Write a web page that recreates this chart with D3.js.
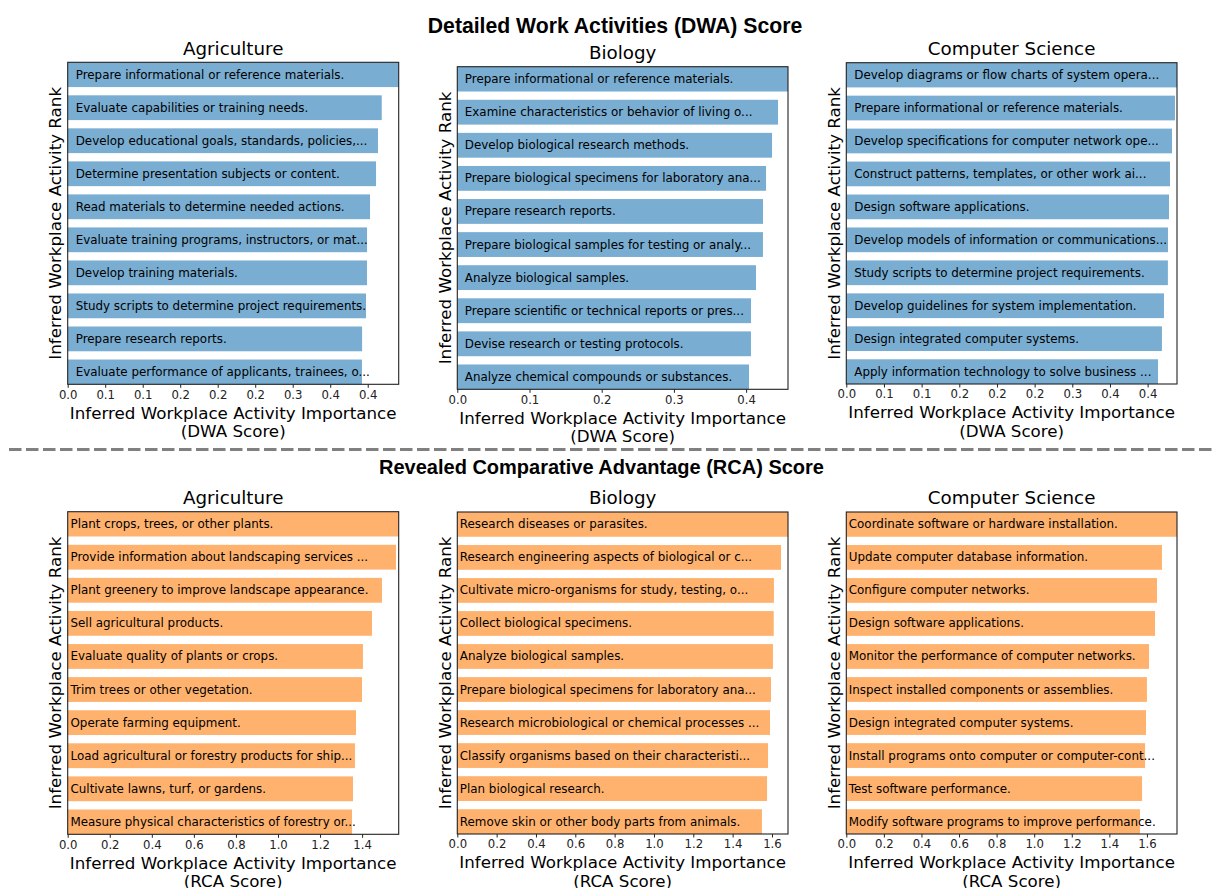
<!DOCTYPE html>
<html>
<head>
<meta charset="utf-8">
<script src="https://cdn.jsdelivr.net/npm/d3@7"></script>
<style>
  html, body { margin: 0; padding: 0; background: #ffffff; }
  svg { display: block; }
</style>
</head>
<body>
<svg id="chart" width="1216" height="888"></svg>
<script>
// ---------------- DATA ----------------
const dwaAgriLabels = [
  "Prepare informational or reference materials.",
  "Evaluate capabilities or training needs.",
  "Develop educational goals, standards, policies,...",
  "Determine presentation subjects or content.",
  "Read materials to determine needed actions.",
  "Evaluate training programs, instructors, or mat...",
  "Develop training materials.",
  "Study scripts to determine project requirements.",
  "Prepare research reports.",
  "Evaluate performance of applicants, trainees, o..."
];
const dwaAgriValues = [0.4413, 0.4187, 0.4137, 0.4111, 0.4031, 0.3991, 0.3990, 0.3977, 0.3925, 0.3923];

const dwaBioLabels = [
  "Prepare informational or reference materials.",
  "Examine characteristics or behavior of living o...",
  "Develop biological research methods.",
  "Prepare biological specimens for laboratory ana...",
  "Prepare research reports.",
  "Prepare biological samples for testing or analy...",
  "Analyze biological samples.",
  "Prepare scientific or technical reports or pres...",
  "Devise research or testing protocols.",
  "Analyze chemical compounds or substances."
];
const dwaBioValues = [0.4580, 0.4442, 0.4359, 0.4276, 0.4234, 0.4233, 0.4137, 0.4068, 0.4067, 0.4040];

const dwaCsLabels = [
  "Develop diagrams or flow charts of system opera...",
  "Prepare informational or reference materials.",
  "Develop specifications for computer network ope...",
  "Construct patterns, templates, or other work ai...",
  "Design software applications.",
  "Develop models of information or communications...",
  "Study scripts to determine project requirements.",
  "Develop guidelines for system implementation.",
  "Design integrated computer systems.",
  "Apply information technology to solve business ..."
];
const dwaCsValues = [0.4390, 0.4363, 0.4324, 0.4297, 0.4284, 0.4270, 0.4269, 0.4217, 0.4190, 0.4138];

const rcaAgriLabels = [
  "Plant crops, trees, or other plants.",
  "Provide information about landscaping services ...",
  "Plant greenery to improve landscape appearance.",
  "Sell agricultural products.",
  "Evaluate quality of plants or crops.",
  "Trim trees or other vegetation.",
  "Operate farming equipment.",
  "Load agricultural or forestry products for ship...",
  "Cultivate lawns, turf, or gardens.",
  "Measure physical characteristics of forestry or..."
];
const rcaAgriValues = [1.574, 1.561, 1.4945, 1.447, 1.404, 1.3995, 1.371, 1.366, 1.3566, 1.352];

const rcaBioLabels = [
  "Research diseases or parasites.",
  "Research engineering aspects of biological or c...",
  "Cultivate micro-organisms for study, testing, o...",
  "Collect biological specimens.",
  "Analyze biological samples.",
  "Prepare biological specimens for laboratory ana...",
  "Research microbiological or chemical processes ...",
  "Classify organisms based on their characteristi...",
  "Plan biological research.",
  "Remove skin or other body parts from animals."
];
const rcaBioValues = [1.6815, 1.646, 1.610, 1.609, 1.605, 1.595, 1.590, 1.580, 1.575, 1.549];

const rcaCsLabels = [
  "Coordinate software or hardware installation.",
  "Update computer database information.",
  "Configure computer networks.",
  "Design software applications.",
  "Monitor the performance of computer networks.",
  "Inspect installed components or assemblies.",
  "Design integrated computer systems.",
  "Install programs onto computer or computer-cont...",
  "Test software performance.",
  "Modify software programs to improve performance."
];
const rcaCsValues = [1.760, 1.680, 1.6535, 1.643, 1.611, 1.600, 1.595, 1.590, 1.574, 1.563];

// tick values and their printed labels
const dwaFineTicks = [0, 0.05, 0.10, 0.15, 0.20, 0.25, 0.30, 0.35, 0.40];
const dwaFineTickLabels = ["0.0", "0.1", "0.1", "0.2", "0.2", "0.2", "0.3", "0.4", "0.4"];
const dwaBioTicks = [0, 0.1, 0.2, 0.3, 0.4];
const dwaBioTickLabels = ["0.0", "0.1", "0.2", "0.3", "0.4"];
const rcaAgriTicks = [0, 0.2, 0.4, 0.6, 0.8, 1.0, 1.2, 1.4];
const rcaAgriTickLabels = ["0.0", "0.2", "0.4", "0.6", "0.8", "1.0", "1.2", "1.4"];
const rcaTicks = [0, 0.2, 0.4, 0.6, 0.8, 1.0, 1.2, 1.4, 1.6];
const rcaTickLabels = ["0.0", "0.2", "0.4", "0.6", "0.8", "1.0", "1.2", "1.4", "1.6"];

const fieldTitles = ["Agriculture", "Biology", "Computer Science"];
const rowTitles = ["Detailed Work Activities (DWA) Score", "Revealed Comparative Advantage (RCA) Score"];
const xLabelLine1 = "Inferred Workplace Activity Importance";
const xLabelDwa = "(DWA Score)";
const xLabelRca = "(RCA Score)";
const yLabelText = "Inferred Workplace Activity Rank";

// ---------------- LAYOUT ----------------
const FONT = "'DejaVu Sans', sans-serif";
const blue = "#79add2";
const orange = "#ffb26e";

const panels = [
  {labels: dwaAgriLabels, values: dwaAgriValues, ticks: dwaFineTicks, tickLabels: dwaFineTickLabels,
   title: fieldTitles[0], xl2: xLabelDwa, color: blue, L: 67.7, R: 398.7, T: 62.3, B: 384.3, textPad: 8},
  {labels: dwaBioLabels, values: dwaBioValues, ticks: dwaBioTicks, tickLabels: dwaBioTickLabels,
   title: fieldTitles[1], xl2: xLabelDwa, color: blue, L: 457.3, R: 788, T: 66.7, B: 389.3, textPad: 7.5},
  {labels: dwaCsLabels, values: dwaCsValues, ticks: dwaFineTicks, tickLabels: dwaFineTickLabels,
   title: fieldTitles[2], xl2: xLabelDwa, color: blue, L: 846.3, R: 1177, T: 62.7, B: 384, textPad: 8},
  {labels: rcaAgriLabels, values: rcaAgriValues, ticks: rcaAgriTicks, tickLabels: rcaAgriTickLabels,
   title: fieldTitles[0], xl2: xLabelRca, color: orange, L: 67.7, R: 398.7, T: 511.7, B: 834.3, textPad: 2.8},
  {labels: rcaBioLabels, values: rcaBioValues, ticks: rcaTicks, tickLabels: rcaTickLabels,
   title: fieldTitles[1], xl2: xLabelRca, color: orange, L: 457.3, R: 788, T: 512, B: 834, textPad: 2.5},
  {labels: rcaCsLabels, values: rcaCsValues, ticks: rcaTicks, tickLabels: rcaTickLabels,
   title: fieldTitles[2], xl2: xLabelRca, color: orange, L: 846.3, R: 1177, T: 512, B: 834, textPad: 2.5}
];

const svg = d3.select("#chart");

// Row titles
svg.append("text")
  .attr("x", 615).attr("y", 25.5)
  .attr("text-anchor", "middle").attr("dominant-baseline", "central")
  .style("font-family", "'Liberation Sans', Arial, sans-serif")
  .style("font-weight", "bold").style("font-size", "21.2px")
  .text(rowTitles[0]);

svg.append("text")
  .attr("x", 601.5).attr("y", 467)
  .attr("text-anchor", "middle").attr("dominant-baseline", "central")
  .style("font-family", "'Liberation Sans', Arial, sans-serif")
  .style("font-weight", "bold").style("font-size", "20px")
  .text(rowTitles[1]);

// Dashed separator
svg.append("line")
  .attr("x1", 9).attr("x2", 1216).attr("y1", 449.5).attr("y2", 449.5)
  .attr("stroke", "#808080").attr("stroke-width", 3.2)
  .attr("stroke-dasharray", "12.5,4.5");

panels.forEach(p => {
  const g = svg.append("g");
  const x = d3.scaleLinear().domain([0, d3.max(p.values)]).range([p.L, p.R]);
  const y = d3.scaleBand().domain(p.labels).range([p.T, p.B]).paddingInner(0.25).paddingOuter(0);

  // bars
  g.selectAll("rect.bar").data(p.values).enter().append("rect")
    .attr("class", "bar")
    .attr("x", x(0))
    .attr("y", (d, i) => y(p.labels[i]))
    .attr("width", d => x(d) - x(0))
    .attr("height", y.bandwidth())
    .attr("fill", p.color);

  // bar texts
  g.selectAll("text.lbl").data(p.labels).enter().append("text")
    .attr("class", "lbl")
    .attr("x", x(0) + p.textPad)
    .attr("y", d => y(d) + y.bandwidth() / 2)
    .attr("dominant-baseline", "central")
    .style("font-family", FONT).style("font-size", "11.9px").style("fill", "#000")
    .text(d => d);

  // frame (spines)
  g.append("rect")
    .attr("x", p.L).attr("y", p.T)
    .attr("width", p.R - p.L).attr("height", p.B - p.T)
    .attr("fill", "none").attr("stroke", "#222").attr("stroke-width", 1.1);

  // x axis
  const axis = d3.axisBottom(x)
    .tickValues(p.ticks)
    .tickFormat((d, i) => p.tickLabels[i])
    .tickSize(3.5).tickPadding(2.5);
  const ax = g.append("g").attr("transform", `translate(0,${p.B})`).call(axis);
  ax.select(".domain").remove();
  ax.selectAll(".tick line").attr("stroke", "#222").attr("stroke-width", 1);
  ax.selectAll(".tick text")
    .style("font-family", FONT).style("font-size", "11.7px").style("fill", "#222");

  // title
  g.append("text")
    .attr("x", (p.L + p.R) / 2).attr("y", p.T - 14.3)
    .attr("text-anchor", "middle").attr("dominant-baseline", "central")
    .style("font-family", FONT).style("font-size", "18.3px")
    .text(p.title);

  // x label (two lines)
  g.append("text")
    .attr("x", (p.L + p.R) / 2).attr("y", p.B + 28.4)
    .attr("text-anchor", "middle").attr("dominant-baseline", "central")
    .style("font-family", FONT).style("font-size", "16.7px")
    .text(xLabelLine1);
  g.append("text")
    .attr("x", (p.L + p.R) / 2).attr("y", p.B + 46.7)
    .attr("text-anchor", "middle").attr("dominant-baseline", "central")
    .style("font-family", FONT).style("font-size", "16.7px")
    .text(p.xl2);

  // y label
  const cy = (p.T + p.B) / 2, cx = p.L - 12.7;
  g.append("text")
    .attr("transform", `translate(${cx},${cy}) rotate(-90)`)
    .attr("text-anchor", "middle").attr("dominant-baseline", "central")
    .style("font-family", FONT).style("font-size", "16.7px")
    .text(yLabelText);
});
</script>
</body>
</html>
